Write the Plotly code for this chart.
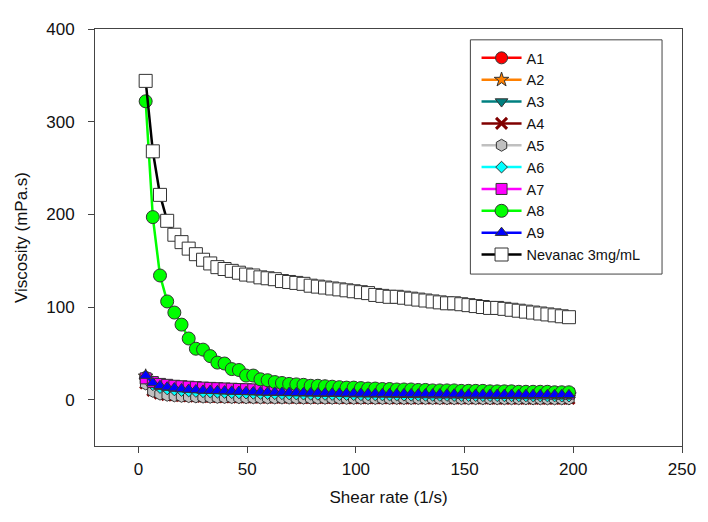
import plotly.graph_objects as go

shear_rate = [3.3, 6.6, 9.9, 13.2, 16.5, 19.8, 23.1, 26.4, 29.7, 33.0,
              36.3, 39.6, 42.9, 46.2, 49.5, 52.8, 56.1, 59.4, 62.7, 66.0,
              69.3, 72.6, 75.9, 79.2, 82.5, 85.8, 89.1, 92.4, 95.7, 99.0,
              102.3, 105.6, 108.9, 112.2, 115.5, 118.8, 122.1, 125.4, 128.7, 132.0,
              135.3, 138.6, 141.9, 145.2, 148.5, 151.8, 155.1, 158.4, 161.7, 165.0,
              168.3, 171.6, 174.9, 178.2, 181.5, 184.8, 188.1, 191.4, 194.7, 198.0]

A1 = [24, 17, 14, 12.5, 11.5, 10.5, 10, 9.5, 9, 8.8, 8.5, 8.3, 8, 7.8, 7.6, 7.4, 7.2, 7, 6.9, 6.8,
      6.6, 6.5, 6.4, 6.3, 6.2, 6.1, 6, 5.9, 5.8, 5.8, 5.7, 5.6, 5.5, 5.5, 5.4, 5.3, 5.3, 5.2, 5.1, 5.1,
      5, 5, 4.9, 4.9, 4.8, 4.8, 4.7, 4.7, 4.6, 4.6, 4.5, 4.5, 4.4, 4.4, 4.4, 4.3, 4.3, 4.2, 4.2, 4.2]
A2 = [25, 17.5, 14.5, 13, 12, 11, 10.5, 10, 9.5, 9.3, 9, 8.8, 8.5, 8.3, 8.1, 7.9, 7.7, 7.5, 7.4, 7.3,
      7.1, 7, 6.9, 6.8, 6.7, 6.6, 6.5, 6.4, 6.3, 6.3, 6.2, 6.1, 6, 6, 5.9, 5.8, 5.8, 5.7, 5.6, 5.6,
      5.5, 5.5, 5.4, 5.4, 5.3, 5.3, 5.2, 5.2, 5.1, 5.1, 5, 5, 4.9, 4.9, 4.9, 4.8, 4.8, 4.7, 4.7, 4.7]
A3 = [20, 11, 8, 6.5, 5.5, 5, 4.6, 4.3, 4, 3.8, 3.6, 3.5, 3.3, 3.2, 3.1, 3, 2.9, 2.8, 2.8, 2.7,
      2.6, 2.6, 2.5, 2.5, 2.4, 2.4, 2.3, 2.3, 2.2, 2.2, 2.2, 2.1, 2.1, 2.1, 2, 2, 2, 1.9, 1.9, 1.9,
      1.9, 1.8, 1.8, 1.8, 1.8, 1.7, 1.7, 1.7, 1.7, 1.7, 1.6, 1.6, 1.6, 1.6, 1.6, 1.5, 1.5, 1.5, 1.5, 1.5]
A4 = [18, 10, 7, 5.5, 4.8, 4.3, 4, 3.7, 3.5, 3.3, 3.1, 3, 2.9, 2.8, 2.7, 2.6, 2.5, 2.4, 2.4, 2.3,
      2.3, 2.2, 2.2, 2.1, 2.1, 2, 2, 2, 1.9, 1.9, 1.9, 1.8, 1.8, 1.8, 1.8, 1.7, 1.7, 1.7, 1.7, 1.6,
      1.6, 1.6, 1.6, 1.6, 1.5, 1.5, 1.5, 1.5, 1.5, 1.4, 1.4, 1.4, 1.4, 1.4, 1.4, 1.3, 1.3, 1.3, 1.3, 1.3]
A5 = [17, 9, 6, 4.8, 4.1, 3.6, 3.3, 3, 2.8, 2.6, 2.5, 2.4, 2.3, 2.2, 2.1, 2, 1.9, 1.9, 1.8, 1.8,
      1.7, 1.7, 1.6, 1.6, 1.6, 1.5, 1.5, 1.5, 1.4, 1.4, 1.4, 1.4, 1.3, 1.3, 1.3, 1.3, 1.2, 1.2, 1.2, 1.2,
      1.2, 1.1, 1.1, 1.1, 1.1, 1.1, 1.1, 1, 1, 1, 1, 1, 1, 1, 0.9, 0.9, 0.9, 0.9, 0.9, 0.9]
A6 = [23, 16, 13, 11.5, 10.5, 9.8, 9.3, 8.8, 8.4, 8.1, 7.9, 7.7, 7.4, 7.2, 7, 6.8, 6.7, 6.5, 6.4, 6.3,
      6.1, 6, 5.9, 5.8, 5.7, 5.6, 5.5, 5.4, 5.4, 5.3, 5.2, 5.1, 5.1, 5, 4.9, 4.9, 4.8, 4.7, 4.7, 4.6,
      4.6, 4.5, 4.5, 4.4, 4.4, 4.3, 4.3, 4.2, 4.2, 4.2, 4.1, 4.1, 4, 4, 4, 3.9, 3.9, 3.9, 3.8, 3.8]
A7 = [23, 19, 17, 16, 15, 14.5, 14, 13.5, 13, 12.7, 12.4, 12.1, 11.8, 11.5, 11.3, 11.1, 10.9, 10.7, 10.5, 10.3,
      10.2, 10, 9.9, 9.8, 9.6, 9.5, 9.4, 9.3, 9.1, 9, 8.9, 8.8, 8.7, 8.6, 8.5, 8.4, 8.3, 8.2, 8.1, 8,
      7.9, 7.8, 7.8, 7.7, 7.6, 7.5, 7.5, 7.4, 7.3, 7.2, 7.2, 7.1, 7, 7, 6.9, 6.8, 6.8, 6.7, 6.7, 6.6]
A8 = [322, 197, 134, 106, 94, 81, 66, 55, 54, 47, 40, 39, 33, 32, 26, 26, 22, 21, 19, 18,
      17, 16.5, 16, 15, 15, 14.5, 14, 13.5, 13, 13, 12.5, 12, 12, 11.5, 11.5, 11, 11, 11, 10.5, 10.5,
      10, 10, 10, 10, 9.5, 9.5, 9.5, 9.5, 9, 9, 9, 9, 8.5, 8.5, 8.5, 8.5, 8.5, 8, 8, 8]
A9 = [26, 18, 15, 13.5, 12.5, 11.5, 11, 10.5, 10, 9.8, 9.5, 9.3, 9, 8.8, 8.6, 8.4, 8.2, 8, 7.9, 7.8,
      7.6, 7.5, 7.4, 7.3, 7.2, 7.1, 7, 6.9, 6.8, 6.8, 6.7, 6.6, 6.5, 6.5, 6.4, 6.3, 6.3, 6.2, 6.1, 6.1,
      6, 6, 5.9, 5.9, 5.8, 5.8, 5.7, 5.7, 5.6, 5.6, 5.5, 5.5, 5.4, 5.4, 5.4, 5.3, 5.3, 5.2, 5.2, 5.2]
Nevanac = [344, 268, 221, 193, 178, 170, 163, 157, 151, 147, 143, 141, 139, 137, 135, 134, 132, 131, 130, 128,
           127, 126, 125, 123, 122, 121, 120, 119, 118, 117, 116, 115, 113, 112, 111, 111, 110, 109, 108, 107,
           106, 105, 104, 104, 103, 102, 101, 100, 99, 99, 98, 97, 96, 95, 94, 93, 92, 91, 90, 89]

series = [
    ("A1", A1, "#ff0000", "circle", "#ff0000", 12),
    ("A2", A2, "#ff8000", "star", "#ff8000", 11),
    ("A3", A3, "#008080", "triangle-down", "#008080", 11),
    ("A4", A4, "#800000", "x-thin", "#800000", 11),
    ("A5", A5, "#c0c0c0", "hexagon", "#c0c0c0", 12),
    ("A6", A6, "#00ffff", "diamond", "#00ffff", 9),
    ("A7", A7, "#ff00ff", "square", "#ff00ff", 11),
    ("A8", A8, "#00ff00", "circle", "#00ff00", 13),
    ("A9", A9, "#0000ff", "triangle-up", "#0000ff", 11),
    ("Nevanac 3mg/mL", Nevanac, "#000000", "square", "#ffffff", 13),
]

fig = go.Figure()
for name, ys, lc, sym, fc, sz in series:
    if sym == "x-thin":
        marker = dict(symbol=sym, size=sz, color=lc, line=dict(color=lc, width=3))
    else:
        marker = dict(symbol=sym, size=sz, color=fc, line=dict(color="#333333", width=1))
    fig.add_trace(go.Scatter(x=shear_rate, y=ys, name=name, mode="lines+markers",
                             line=dict(color=lc, width=2.5), marker=marker))

# legend frame
fig.add_shape(type="rect", xref="paper", yref="paper",
              x0=0.6395, x1=0.966, y0=0.4123, y1=0.974,
              line=dict(color="#444444", width=1), fillcolor="white", layer="above")

font = "Liberation Sans, Arial, sans-serif"
fig.update_layout(
    width=700, height=514,
    margin=dict(l=87, r=25, t=16, b=76),
    paper_bgcolor="white", plot_bgcolor="white",
    font=dict(family=font, size=17, color="#111111"),
    showlegend=True,
    legend=dict(x=0.65, y=0.969, xanchor="left", yanchor="top",
                borderwidth=0, bgcolor="rgba(0,0,0,0)",
                font=dict(size=14.5, family=font), tracegroupgap=0,
                itemwidth=40),
    xaxis=dict(range=[-20, 250], tickvals=[0, 50, 100, 150, 200, 250],
               showgrid=False, zeroline=False, showline=True, linecolor="#444444",
               linewidth=1, mirror=True, ticks="outside", ticklen=6, tickcolor="#444444",
               ticklabelstandoff=2,
               title=dict(text="Shear rate (1/s)", font=dict(size=17), standoff=12)),
    yaxis=dict(range=[-50, 400], tickvals=[0, 100, 200, 300, 400],
               showgrid=False, zeroline=False, showline=True, linecolor="#444444",
               linewidth=1, mirror=True, ticks="outside", ticklen=6, tickcolor="#444444",
               ticklabelstandoff=10,
               title=dict(text="Viscosity (mPa.s)", font=dict(size=17), standoff=14)),
)

fig.write_html("out.html")
